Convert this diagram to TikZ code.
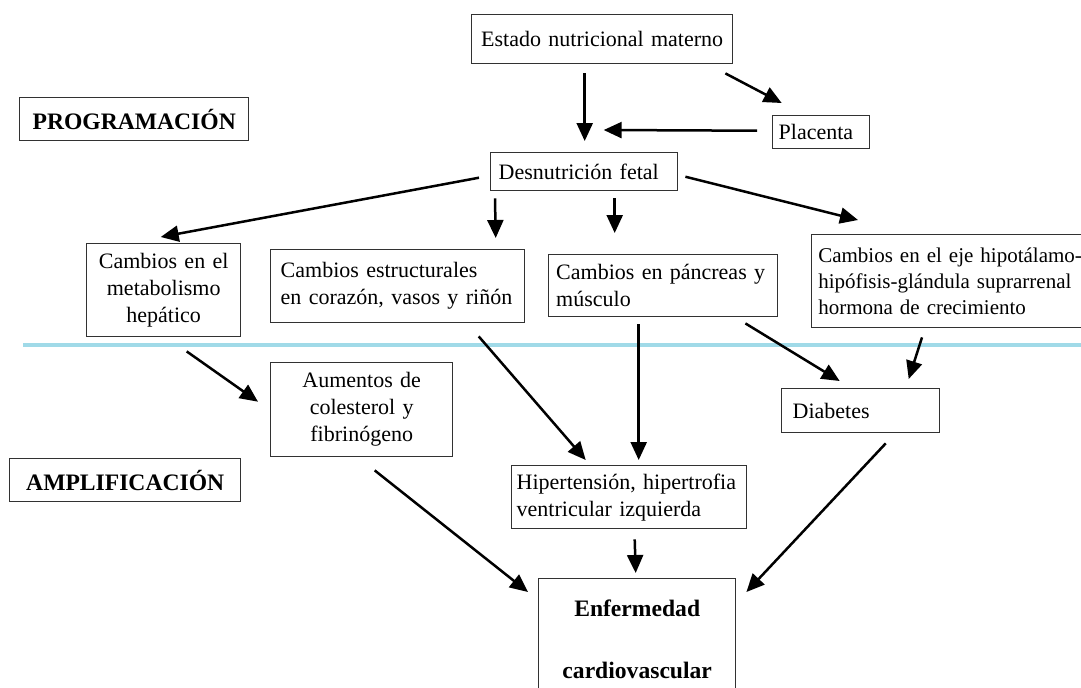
\documentclass[tikz,border=0pt]{standalone}
\usepackage{fontspec}
\setmainfont{Liberation Serif}
\usepackage{tikz}
\usetikzlibrary{arrows.meta}
\definecolor{celeste}{RGB}{160,218,232}
\definecolor{borde}{RGB}{50,50,50}
\tikzset{
  caja/.style={draw=borde, line width=0.7pt, fill=white, anchor=north west,
    inner ysep=0pt, font=\fontsize{11}{13.5}\selectfont},
  titulo/.style={caja, align=center, font=\fontsize{11.8}{14}\selectfont\bfseries},
  flecha/.style={line width=1.25pt, -{Triangle[length=9pt,width=8pt]}}
}

\begin{document}
\begin{tikzpicture}[x=0.5pt,y=-0.5pt]
  \clip (0,0) rectangle (1081,687);

  \draw [celeste, line width=2pt] (23,345) -- (1081,345);

  \node [caja, minimum width=130.5pt, minimum height=24.5pt, text width=122.5pt, inner xsep=4pt, align=center] (estado) at (471,14) {Estado nutricional materno};
  \node [titulo, minimum width=114.5pt, minimum height=21.5pt] (prog) at (19,97) {PROGRAMACIÓN};
  \node [caja, minimum height=16.5pt, text width=42.5pt, inner xsep=3pt, align=left] (placenta) at (772,115) {Placenta};
  \node [caja, minimum height=19pt, text width=85.5pt, inner xsep=4pt, align=left] (desn) at (490,152) {Desnutrición fetal};

  \node [caja, minimum height=46.5pt, text width=71pt, inner xsep=3pt, align=center] (meta) at (86,243) {Cambios en el\\metabolismo\\hepático};
  \node [caja, minimum height=36.5pt, text width=117pt, inner xsep=5pt, align=left] (estr) at (270,249) {Cambios estructurales\\en corazón, vasos y riñón};
  \node [caja, minimum height=31pt, text width=107pt, inner xsep=3.75pt, align=left] (panc) at (548,254) {Cambios en páncreas y\\músculo};
  \node [caja, minimum height=46.5pt, text width=160pt, inner xsep=3.3pt, align=left, font=\fontsize{10.5}{13}\selectfont] (eje) at (811,234) {Cambios en el eje hipotálamo-\\hipófisis-glándula suprarrenal\\hormona de crecimiento};

  \node [caja, minimum height=47pt, text width=85pt, inner xsep=3pt, align=center] (aum) at (270,362) {Aumentos de\\colesterol y\\fibrinógeno};
  \node [titulo, minimum width=115.5pt, minimum height=21.5pt] (ampl) at (9,458) {AMPLIFICACIÓN};
  \node [caja, minimum height=22pt, text width=68pt, inner xsep=5.5pt, align=left] (diab) at (781,388) {Diabetes};
  \node [caja, minimum height=31.5pt, text width=112.5pt, inner xsep=2.5pt, align=left] (hip) at (511,465) {Hipertensión, hipertrofia\\ventricular izquierda};
  \node [titulo, minimum width=98.5pt, minimum height=61pt, text width=90pt] (enf) at (538,578) {Enfermedad\\[17pt]cardiovascular};

  % programacion
  \draw [flecha] ([shift={(-17.5,9)}]estado.south) -- ([shift={(0.5,-11)}]desn.north);
  \draw [flecha] ([shift={(-8,9)}]estado.south east) -- ([shift={(-39.5,-12)}]placenta.north);
  \draw [flecha] ([shift={(-15,-1.5)}]placenta.west) -- ([shift={(19.5,-22)}]desn.north);
  \draw [flecha] ([shift={(-11,6)}]desn.west) -- ([shift={(-3,-6)}]meta.north);
  \draw [flecha] ([shift={(5,7)}]desn.south west) -- ([shift={(98,-11)}]estr.north);
  \draw [flecha] ([shift={(30.5,7)}]desn.south) -- ([shift={(-48.5,-21)}]panc.north);
  \draw [flecha] ([shift={(7,5)}]desn.east) -- ([shift={(47,-14)}]eje.north west);

  % amplificacion
  \draw [flecha] ([shift={(23,14)}]meta.south) -- ([shift={(-12,-8)}]aum.west);
  \draw [flecha] ([shift={(81,13)}]estr.south) -- ([shift={(-43.5,-5)}]hip.north);
  \draw [flecha] ([shift={(-24.5,7)}]panc.south) -- ([shift={(9.5,-5)}]hip.north);
  \draw [flecha] ([shift={(-33,6)}]panc.south east) -- ([shift={(-21,-7)}]diab.north);
  \draw [flecha] ([shift={(111,9)}]eje.south west) -- ([shift={(48,-9)}]diab.north);
  \draw [flecha] ([shift={(13,13)}]aum.south) -- ([shift={(-10,14)}]enf.north west);
  \draw [flecha] ([shift={(5.5,10)}]hip.south) -- ([shift={(-1.5,-5)}]enf.north);
  \draw [flecha] ([shift={(25,10)}]diab.south) -- ([shift={(10,14)}]enf.north east);

\end{tikzpicture}
\end{document}
